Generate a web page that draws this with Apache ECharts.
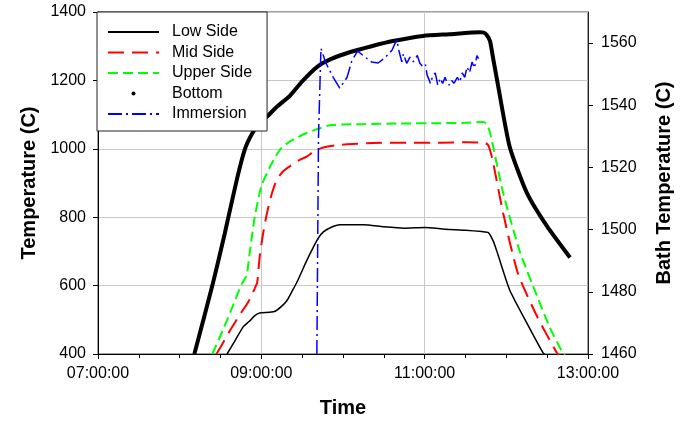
<!DOCTYPE html>
<html>
<head>
<meta charset="utf-8">
<script src="https://cdn.jsdelivr.net/npm/echarts@6/dist/echarts.min.js"></script>
<style>
html,body{margin:0;padding:0;background:#fff;}
#chart{width:689px;height:423px;}
</style>
</head>
<body>
<div id="chart"></div>
<script>
// Time in decimal hours, temperatures in C
const lowTime = [8.58, 8.68, 8.78, 8.85, 8.92, 8.98, 9.10, 9.17, 9.25, 9.31, 9.38, 9.44, 9.55, 9.64, 9.70, 9.76, 9.85, 9.96, 10.25, 10.5, 10.75, 11.0, 11.25, 11.5, 11.70, 11.78, 11.84, 11.89, 12.04, 12.25, 12.45, 12.48];
const lowTemp = [400, 440, 480, 495, 512, 520, 522, 525, 540, 555, 585, 612, 670, 714, 740, 757, 770, 778, 778, 772, 768, 770, 765, 762, 758, 755, 730, 696, 588, 491, 403, 395];

const midTime = [8.45, 8.50, 8.62, 8.75, 8.84, 8.92, 8.95, 8.98, 9.02, 9.07, 9.13, 9.19, 9.27, 9.35, 9.45, 9.56, 9.66, 9.76, 9.90, 10.05, 10.37, 10.8, 11.2, 11.5, 11.74, 11.78, 11.83, 11.96, 12.14, 12.38, 12.62, 12.65];
const midTemp = [400, 420, 470, 520, 552, 592, 610, 685, 750, 813, 870, 910, 935, 949, 965, 978, 995, 1004, 1010, 1013, 1017, 1018, 1018, 1019, 1017, 1010, 969, 813, 637, 508, 403, 395];

const upTime = [8.40, 8.53, 8.65, 8.76, 8.82, 8.86, 8.92, 9.00, 9.11, 9.23, 9.33, 9.44, 9.56, 9.68, 9.84, 10.0, 10.25, 10.7, 11.2, 11.5, 11.72, 11.76, 11.80, 11.96, 12.17, 12.38, 12.53, 12.69, 12.72];
const upTemp = [400, 470, 540, 605, 630, 700, 802, 890, 949, 998, 1018, 1033, 1047, 1057, 1069, 1071, 1072, 1074, 1075, 1076, 1078, 1072, 1048, 872, 696, 567, 479, 403, 395];

const botTime = [8.18, 8.40, 8.55, 8.70, 8.80, 8.90, 8.98, 9.06, 9.20, 9.35, 9.50, 9.68, 9.85, 10.09, 10.35, 10.61, 10.98, 11.30, 11.68, 11.72, 11.76, 11.80, 11.84, 11.90, 12.04, 12.25, 12.50, 12.78];
const botTemp = [400, 600, 750, 910, 1000, 1050, 1075, 1092, 1125, 1155, 1197, 1239, 1262, 1283, 1300, 1315, 1330, 1335, 1341, 1340, 1333, 1315, 1262, 1183, 1007, 872, 773, 682];

const immTime = [9.68, 9.70, 9.73, 9.79, 9.88, 9.96, 10.05, 10.11, 10.18, 10.27, 10.35, 10.43, 10.51, 10.60, 10.63, 10.66, 10.68, 10.70, 10.72, 10.74, 10.78, 10.82, 10.86, 10.91, 10.94, 10.98, 11.01, 11.03, 11.05, 11.07, 11.10, 11.13, 11.16, 11.19, 11.22, 11.25, 11.27, 11.30, 11.33, 11.36, 11.40, 11.43, 11.46, 11.49, 11.52, 11.55, 11.58, 11.61, 11.64, 11.66];
const immTemp = [1460, 1530, 1558.3, 1553.6, 1549, 1545.5, 1549, 1554.5, 1557.4, 1555.5, 1553.9, 1553.6, 1555.2, 1557.7, 1559.5, 1561, 1558, 1556, 1554, 1556.5, 1553.5, 1555.5, 1554, 1556, 1553.6, 1552.3, 1553, 1549.7, 1548.5, 1547, 1549.5, 1550.4, 1546.5, 1548.7, 1547, 1549, 1547.5, 1546.5, 1548, 1547.1, 1549, 1547.5, 1550.4, 1549, 1552.3, 1550.5, 1553.9, 1552, 1556, 1555];

const rightTicks = [1460, 1480, 1500, 1520, 1540, 1560];

function pairs(t, v) { return t.map((x, i) => [x, v[i]]); }
function hourLabel(v) { const h = Math.round(v); return (h < 10 ? '0' : '') + h + ':00:00'; }
function plain(v) { return String(v); }

const FONT = 'Liberation Sans';
const chart = echarts.init(document.getElementById('chart'), null, { renderer: 'canvas' });
const noSym = { opacity: 0 };

const option = {
  animation: false,
  backgroundColor: '#fff',
  textStyle: { fontFamily: FONT },
  grid: { left: 98, right: 101, top: 12, bottom: 69, show: true, borderColor: '#444', borderWidth: 1, backgroundColor: 'transparent' },
  legend: {
    orient: 'vertical', left: 97, top: 12,
    padding: [12, 15, 9, 10],
    itemWidth: 51, itemHeight: 4, itemGap: 4.5,
    backgroundColor: '#fff', borderColor: '#222', borderWidth: 1,
    textStyle: { fontFamily: FONT, fontSize: 16, color: '#000', padding: [0, 0, 0, 8] },
    data: [
      { name: 'Low Side', itemStyle: noSym },
      { name: 'Mid Side', itemStyle: noSym },
      { name: 'Upper Side', itemStyle: noSym },
      { name: 'Bottom', icon: 'circle' },
      { name: 'Immersion', itemStyle: noSym }
    ]
  },
  xAxis: {
    type: 'value', min: 7, max: 13, interval: 2,
    name: 'Time', nameLocation: 'middle', nameGap: 44,
    nameTextStyle: { fontFamily: FONT, fontSize: 20, fontWeight: 'bold', color: '#000' },
    axisLine: { lineStyle: { color: '#000', width: 1 } },
    axisTick: { show: true, length: 5, lineStyle: { color: '#000' } },
    minorTick: { show: true, splitNumber: 4, length: 4, lineStyle: { color: '#000' } },
    axisLabel: { fontFamily: FONT, fontSize: 16, color: '#000', margin: 12, formatter: hourLabel },
    splitLine: { show: true, lineStyle: { color: '#c8c8c8', width: 1 } }
  },
  yAxis: [
    {
      type: 'value', min: 400, max: 1400, interval: 200,
      name: 'Temperature (C)', nameLocation: 'middle', nameGap: 58, nameRotate: 90,
      nameTextStyle: { fontFamily: FONT, fontSize: 20, fontWeight: 'bold', color: '#000' },
      axisLine: { show: true, lineStyle: { color: '#000', width: 1 } },
      axisTick: { show: true, length: 5, lineStyle: { color: '#000' } },
      axisLabel: { fontFamily: FONT, fontSize: 16, color: '#000', margin: 12, formatter: plain },
      splitLine: { show: true, lineStyle: { color: '#c8c8c8', width: 1 } }
    },
    {
      type: 'value', min: 1460, max: 1570, position: 'right',
      name: 'Bath Temperature (C)', nameLocation: 'middle', nameGap: 66, nameRotate: 90,
      nameTextStyle: { fontFamily: FONT, fontSize: 20, fontWeight: 'bold', color: '#000' },
      axisLine: { show: true, lineStyle: { color: '#222', width: 1 } },
      axisTick: { show: true, length: 5, lineStyle: { color: '#000' }, customValues: rightTicks },
      axisLabel: { fontFamily: FONT, fontSize: 16, color: '#000', margin: 13, customValues: rightTicks, formatter: plain },
      splitLine: { show: false }
    }
  ],
  series: [
    { name: 'Low Side', type: 'line', yAxisIndex: 0, symbol: 'none', smooth: 0.2,
      lineStyle: { color: '#000', width: 1.5 }, itemStyle: { color: '#000' },
      data: pairs(lowTime, lowTemp) },
    { name: 'Mid Side', type: 'line', yAxisIndex: 0, symbol: 'none', smooth: 0.2,
      lineStyle: { color: '#ff0000', width: 2, type: [16, 8] }, itemStyle: { color: '#ff0000' },
      data: pairs(midTime, midTemp) },
    { name: 'Upper Side', type: 'line', yAxisIndex: 0, symbol: 'none', smooth: 0.2,
      lineStyle: { color: '#00ff00', width: 2, type: [10, 5] }, itemStyle: { color: '#00ff00' },
      data: pairs(upTime, upTemp) },
    { name: 'Bottom', type: 'line', yAxisIndex: 0, symbol: 'none', smooth: 0.2,
      lineStyle: { color: '#000', width: 4 }, itemStyle: { color: '#000' },
      data: pairs(botTime, botTemp) },
    { name: 'Immersion', type: 'line', yAxisIndex: 1, symbol: 'none',
      lineStyle: { color: '#0000ff', width: 1.5, type: [14, 4, 2, 4] }, itemStyle: { color: '#0000ff' },
      data: pairs(immTime, immTemp) }
  ]
};
chart.setOption(option);
</script>
</body>
</html>
